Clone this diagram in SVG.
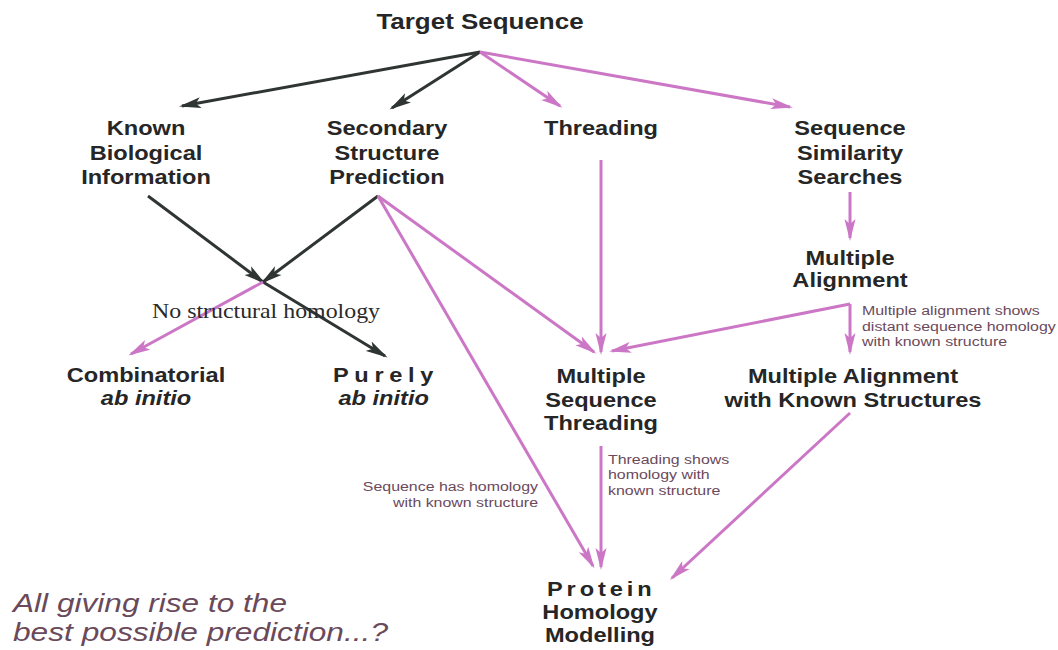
<svg xmlns="http://www.w3.org/2000/svg" width="1058" height="650" viewBox="0 0 1058 650">
<style>
.n{font-family:"Liberation Sans",Arial,sans-serif;font-weight:bold;font-size:20px;fill:#262626;text-anchor:middle}
.i{font-style:italic}
.s{font-family:"Liberation Sans",Arial,sans-serif;font-size:13.5px;fill:#6b4a5c}
.d{fill:none;stroke:#2f3532;stroke-width:3}
.p{fill:none;stroke:#cc77c6;stroke-width:3}
.q{font-family:"Liberation Sans",Arial,sans-serif;font-style:italic;font-size:25px;fill:#6a4a5a}
</style>
<defs>
<marker id="ad" markerUnits="userSpaceOnUse" markerWidth="24" markerHeight="12" refX="19" refY="6" orient="auto">
<path d="M0,0.5 L22,6 L0,11.5 L5,6 z" fill="#2f3532"/>
</marker>
<marker id="ap" markerUnits="userSpaceOnUse" markerWidth="24" markerHeight="12" refX="19" refY="6" orient="auto">
<path d="M0,0.5 L22,6 L0,11.5 L5,6 z" fill="#cc77c6"/>
</marker>
</defs>
<rect width="1058" height="650" fill="#ffffff"/>
<g id="connectors">
<path class="d" d="M480,52 L182,106" marker-end="url(#ad)"/>
<path class="d" d="M480,52 L392,108" marker-end="url(#ad)"/>
<path class="p" d="M480,52 L560,106" marker-end="url(#ap)"/>
<path class="p" d="M480,52 L790,107" marker-end="url(#ap)"/>
<path class="d" d="M148,196 L263,282" marker-end="url(#ad)"/>
<path class="d" d="M263,282 L385,356" marker-end="url(#ad)"/>
<path class="d" d="M378,196 L263,282" marker-end="url(#ad)"/>
<path class="p" d="M263,282 L131,354" marker-end="url(#ap)"/>
<path class="p" d="M378,196 L594,352" marker-end="url(#ap)"/>
<path class="p" d="M378,196 L593,566" marker-end="url(#ap)"/>
<path class="p" d="M601,160 L601,352" marker-end="url(#ap)"/>
<path class="p" d="M850,192 L850,238" marker-end="url(#ap)"/>
<path class="p" d="M850,304 L612,351" marker-end="url(#ap)"/>
<path class="p" d="M850,304 L850,352" marker-end="url(#ap)"/>
<path class="p" d="M601,446 L601,567" marker-end="url(#ap)"/>
<path class="p" d="M850,413 L672,578" marker-end="url(#ap)"/>
</g>
<g id="target-sequence" transform="translate(480 0) scale(1.18 1)">
<text class="n" x="0" y="29" style="font-size:22px">Target Sequence</text>
</g>
<g id="known-biological-information" transform="translate(146 0) scale(1.18 1)">
<text class="n" x="0" y="135">Known</text>
<text class="n" x="0" y="160">Biological</text>
<text class="n" x="0" y="184">Information</text>
</g>
<g id="secondary-structure-prediction" transform="translate(387 0) scale(1.18 1)">
<text class="n" x="0" y="135">Secondary</text>
<text class="n" x="0" y="160">Structure</text>
<text class="n" x="0" y="184">Prediction</text>
</g>
<g id="threading" transform="translate(601 0) scale(1.18 1)">
<text class="n" x="0" y="135">Threading</text>
</g>
<g id="sequence-similarity-searches" transform="translate(850 0) scale(1.18 1)">
<text class="n" x="0" y="135">Sequence</text>
<text class="n" x="0" y="160">Similarity</text>
<text class="n" x="0" y="184">Searches</text>
</g>
<g id="multiple-alignment" transform="translate(850 0) scale(1.18 1)">
<text class="n" x="0" y="265">Multiple</text>
<text class="n" x="0" y="287">Alignment</text>
</g>
<g id="combinatorial-ab-initio" transform="translate(146 0) scale(1.18 1)">
<text class="n" x="0" y="382">Combinatorial</text>
<text class="n i" x="0" y="405">ab initio</text>
</g>
<g id="purely-ab-initio" transform="translate(386 0) scale(1.18 1)">
<text class="n" x="0" y="382" style="letter-spacing:4.8px">Purely</text>
<text class="n i" x="-2" y="405">ab initio</text>
</g>
<g id="multiple-sequence-threading" transform="translate(601 0) scale(1.18 1)">
<text class="n" x="0" y="383">Multiple</text>
<text class="n" x="0" y="407">Sequence</text>
<text class="n" x="0" y="430">Threading</text>
</g>
<g id="multiple-alignment-known-structures" transform="translate(853 0) scale(1.18 1)">
<text class="n" x="0" y="383">Multiple Alignment</text>
<text class="n" x="0" y="407">with Known Structures</text>
</g>
<g id="protein-homology-modelling" transform="translate(600 0) scale(1.18 1)">
<text class="n" x="1" y="596" style="letter-spacing:3.3px">Protein</text>
<text class="n" x="0" y="619">Homology</text>
<text class="n" x="0" y="642">Modelling</text>
</g>
<g id="labels">
<text x="152" y="318" textLength="228" lengthAdjust="spacingAndGlyphs" style="font-family:'Liberation Serif','Times New Roman',serif;font-size:22px;fill:#2a2a2a">No structural homology</text>
<g transform="translate(862 0) scale(1.18 1)">
<text class="s" x="0" y="315">Multiple alignment shows</text>
<text class="s" x="0" y="331">distant sequence homology</text>
<text class="s" x="0" y="346">with known structure</text>
</g>
<g transform="translate(538 0) scale(1.18 1)">
<text class="s" x="0" y="491" text-anchor="end">Sequence has homology</text>
<text class="s" x="0" y="507" text-anchor="end">with known structure</text>
</g>
<g transform="translate(608 0) scale(1.18 1)">
<text class="s" x="0" y="464">Threading shows</text>
<text class="s" x="0" y="479">homology with</text>
<text class="s" x="0" y="495">known structure</text>
</g>
<text class="q" x="13" y="612" textLength="274" lengthAdjust="spacingAndGlyphs">All giving rise to the</text>
<text class="q" x="13" y="641" textLength="375" lengthAdjust="spacingAndGlyphs">best possible prediction...?</text>
</g>
</svg>
